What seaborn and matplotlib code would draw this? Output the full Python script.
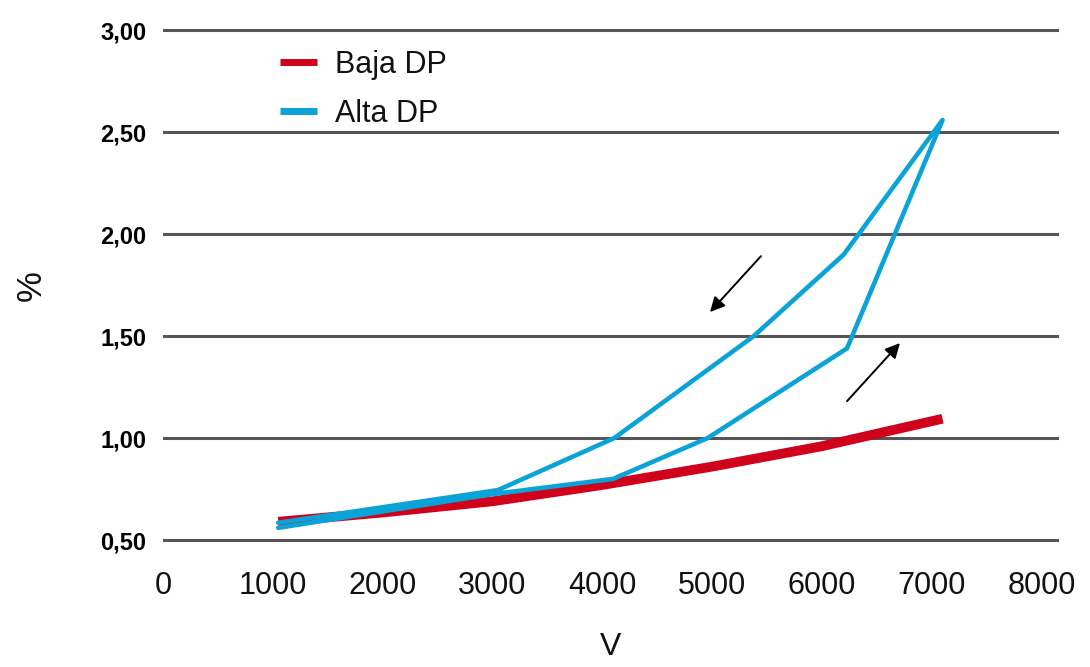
import numpy as np
import pandas as pd
import matplotlib
matplotlib.use("Agg")
import matplotlib.pyplot as plt
import seaborn as sns

# === Data ===
baja_v = [1050, 2000, 3000, 4000, 5000, 6000, 7100]
baja_pct = [0.59, 0.635, 0.69, 0.77, 0.86, 0.96, 1.095]

# Alta DP is a loop: going up in voltage, then back down
alta_v = [1050, 3000, 4100, 4960, 6230, 7100, 6200, 5380, 4110, 3050, 1050]
alta_pct = [0.56, 0.725, 0.80, 1.00, 1.44, 2.56, 1.90, 1.50, 1.00, 0.745, 0.585]

x_ticks = [0, 1000, 2000, 3000, 4000, 5000, 6000, 7000, 8000]
y_ticks = [0.5, 1.0, 1.5, 2.0, 2.5, 3.0]
y_tick_labels = ["0,50", "1,00", "1,50", "2,00", "2,50", "3,00"]

# arrows showing direction of the loop (start, end)
arrow_down = [(5446, 1.892), (4982, 1.618)]
arrow_up = [(6230, 1.181), (6712, 1.466)]

RED = "#D0021B"
BLUE = "#0AA3D8"

sns.set_theme(style="white")
plt.rcParams["font.family"] = ["Liberation Sans", "DejaVu Sans"]

fig = plt.figure(figsize=(10.9, 6.67), dpi=100)
ax = fig.add_axes([0.1495, 0.175, 0.822, 0.795])

baja_df = pd.DataFrame({"V": baja_v, "pct": baja_pct})
alta_df = pd.DataFrame({"V": alta_v, "pct": alta_pct})

sns.lineplot(data=baja_df, x="V", y="pct", ax=ax, color=RED, linewidth=7,
             label="Baja DP", sort=False, estimator=None, zorder=3,
             solid_capstyle="butt")
sns.lineplot(data=alta_df, x="V", y="pct", ax=ax, color=BLUE, linewidth=3.3,
             label="Alta DP", sort=False, estimator=None, zorder=4)

for start, end in [arrow_down, arrow_up]:
    ax.annotate("", xy=end, xytext=start,
                arrowprops=dict(arrowstyle="-|>", color="black", lw=1.4,
                                mutation_scale=22, shrinkA=0, shrinkB=0))

# === Axes styling ===
ax.set_xlim(0, 8160)
ax.set_ylim(0.45, 3.05)
for y in y_ticks:
    ax.axhline(y, color="#555555", linewidth=2.2, zorder=1)

ax.set_xticks(x_ticks)
ax.set_xticklabels([str(v) for v in x_ticks], fontsize=22, color="#111111")
ax.set_yticks(y_ticks)
ax.set_yticklabels(y_tick_labels, fontsize=17, fontweight="bold", color="black",
                   family=["Liberation Sans Narrow", "Liberation Sans", "DejaVu Sans"])
ax.tick_params(axis="x", length=0, pad=15)
ax.tick_params(axis="y", length=0, pad=12)
for side in ax.spines.values():
    side.set_visible(False)

ax.set_xlabel("V", fontsize=23, labelpad=22, color="#111111")
ax.set_ylabel("%", fontsize=25, labelpad=38, color="#111111")

leg = ax.legend(loc="upper left", bbox_to_anchor=(0.1, 0.995), frameon=False,
                fontsize=22, handlelength=1.2, handletextpad=0.6, labelspacing=0.62)
for line in leg.get_lines():
    line.set_linewidth(5)
    line.set_solid_capstyle("butt")
for t in leg.get_texts():
    t.set_color("#111111")

plt.savefig("out.png", dpi=100)
